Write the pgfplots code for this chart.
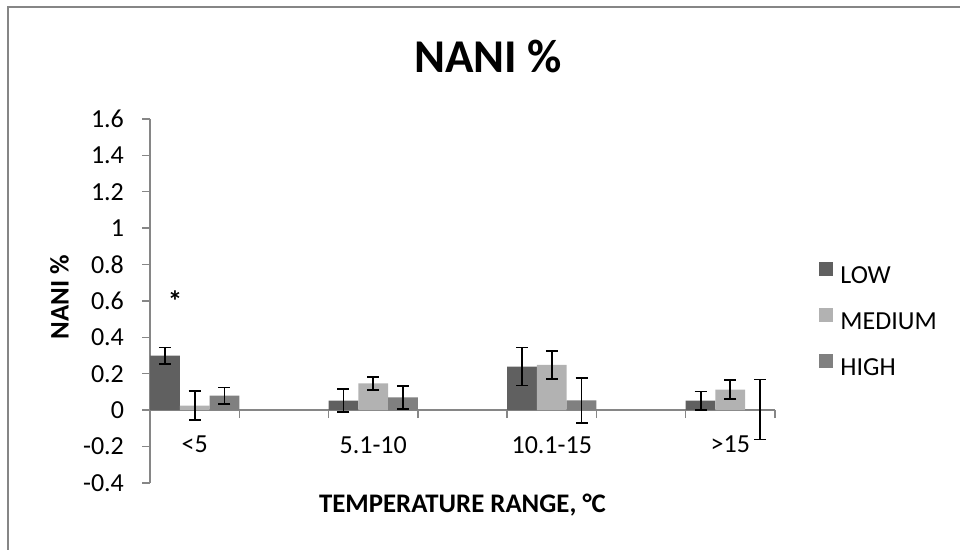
\documentclass[border=0pt]{standalone}
\usepackage{fontspec}
\setmainfont{Carlito}
\usepackage{pgfplots}
\usepackage{pgfplotstable}
\pgfplotsset{compat=1.18}

\definecolor{lowc}{RGB}{96,96,96}
\definecolor{medc}{RGB}{178,178,178}
\definecolor{highc}{RGB}{128,128,128}
\definecolor{axgray}{RGB}{134,134,134}

% categories sit at 0,2,4,6 (empty slots between, as in the source sheet)
\pgfplotstableread{
x y e
0 0.300 0.045
2 0.053 0.064
4 0.240 0.104
6 0.053 0.050
}\lowdata
\pgfplotstableread{
x y e
0 0.025 0.080
2 0.147 0.037
4 0.249 0.076
6 0.113 0.052
}\meddata
\pgfplotstableread{
x y e
0 0.080 0.045
2 0.070 0.062
4 0.054 0.124
6 0.004 0.165
}\highdata

\newcommand{\tickfont}{\fontsize{13}{15.5}\selectfont}
\newcommand{\labfont}{\bfseries\fontsize{13.4}{16}\selectfont}

\begin{document}
\begin{tikzpicture}
\begin{axis}[
    at={(75pt,33.5pt)}, anchor=south west,
    scale only axis, width=312.5pt, height=182pt,
    xmin=-0.5, xmax=6.5, ymin=-0.4, ymax=1.6,
    axis x line*=middle, axis y line*=left,
    axis line style={draw=axgray, line width=0.7pt, -},
    ybar, bar width=0.3333,
    xtick={0,2,4,6},
    xticklabels={<5,5.1-10,10.1-15,>15},
    minor xtick={-0.5,0.5,...,6.5},
    major x tick style={draw=none},
    minor x tick style={draw=axgray, line width=0.7pt},
    ytick={-0.4,-0.2,0,0.2,0.4,0.6,0.8,1,1.2,1.4,1.6},
    ytick style={draw=axgray, line width=0.7pt},
    tick align=outside,
    major tick length=4pt, minor tick length=4pt,
    yticklabel style={/pgf/number format/fixed, /pgf/number format/precision=1,
        /pgf/number format/assume math mode=true, font=\tickfont, xshift=-5.5pt},
    xticklabel style={font=\tickfont, yshift=-5.5pt},
    ylabel={NANI \%},
    ylabel style={at={(axis description cs:-0.1448,0.511)}, anchor=center,
        font=\labfont},
    xlabel={TEMPERATURE RANGE, °C},
    xlabel style={at={(axis description cs:0.5,-0.0604)}, anchor=center,
        font=\labfont},
    legend style={at={(axis description cs:1.0704,0.447)}, anchor=west,
        draw=none, fill=none, inner sep=0pt, nodes={inner sep=0pt},
        column sep=3.5pt, row sep=11pt, font=\tickfont},
    legend cell align=left,
    legend image code/.code={\fill[#1] (0pt,0pt) rectangle (7pt,7pt);},
    error bars/y dir=both, error bars/y explicit,
    error bars/error bar style={black, line width=0.9pt},
    error bars/error mark options={black, line width=0.9pt, mark size=3pt, rotate=90},
]
\addplot[fill=lowc, draw=none, bar shift=-0.3333]
    table[x=x, y=y, y error=e]{\lowdata};
\addplot[fill=medc, draw=none, bar shift=0]
    table[x=x, y=y, y error=e]{\meddata};
\addplot[fill=highc, draw=none, bar shift=0.3333]
    table[x=x, y=y, y error=e]{\highdata};
\legend{LOW, MEDIUM, HIGH}
\node[anchor=base, font=\bfseries\fontsize{14.5}{17}\selectfont] at (axis cs:-0.22,0.545) {*};
\end{axis}
\node[anchor=base, font=\bfseries\fontsize{23.5}{28}\selectfont] at (244pt,238.5pt) {NANI \%};
\draw[axgray, line width=1pt] (4pt,0pt) |- (480pt,271.5pt);
\pgfresetboundingbox
\useasboundingbox (0pt,0pt) rectangle (480pt,275pt);
\end{tikzpicture}
\end{document}
